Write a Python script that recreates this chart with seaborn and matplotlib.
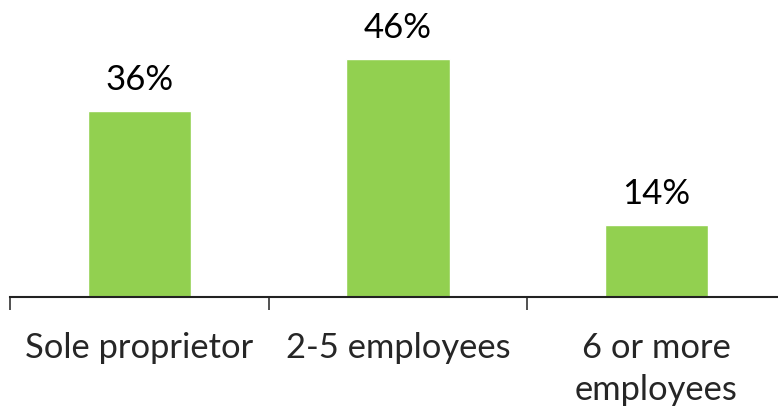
import matplotlib
matplotlib.use("Agg")
import matplotlib.pyplot as plt
import seaborn as sns
import pandas as pd

# --- data ---
categories = ["Sole proprietor", "2-5 employees", "6 or more\nemployees"]
shares = [36, 46, 14]
value_labels = ["36%", "46%", "14%"]

GREEN = "#92D050"

sns.set_theme(style="white")
plt.rcParams["font.family"] = ["Lato", "DejaVu Sans"]

df = pd.DataFrame({"category": categories, "share": shares})

fig = plt.figure(figsize=(7.78, 4.09), dpi=100)
ax = fig.add_axes([10 / 778, 112 / 409, 768 / 778, 297 / 409])

sns.barplot(data=df, x="category", y="share", color=GREEN, width=0.4,
            saturation=1, ax=ax)

for i, (v, lab) in enumerate(zip(shares, value_labels)):
    ax.text(i, v + 4.0, lab, ha="center", va="baseline", fontsize=25, color="black")

ax.set_xlim(-0.5, 2.47)
ax.set_ylim(0, 57.4)
ax.set_xlabel("")
ax.set_ylabel("")
ax.set_yticks([])

for s in ["top", "right", "left"]:
    ax.spines[s].set_visible(False)
ax.spines["bottom"].set_color("#222222")
ax.spines["bottom"].set_linewidth(1.5)

ax.set_xticks([-0.5, 0.5, 1.5], minor=True)
ax.tick_params(axis="x", which="minor", bottom=True, length=9, width=1.2,
               color="#333333", direction="out")
ax.tick_params(axis="x", which="major", bottom=False, length=0, pad=25,
               labelsize=24.8)
for t in ax.get_xticklabels():
    t.set_multialignment("center")
    t.set_linespacing(1.38)

fig.savefig("out.png", dpi=100)
